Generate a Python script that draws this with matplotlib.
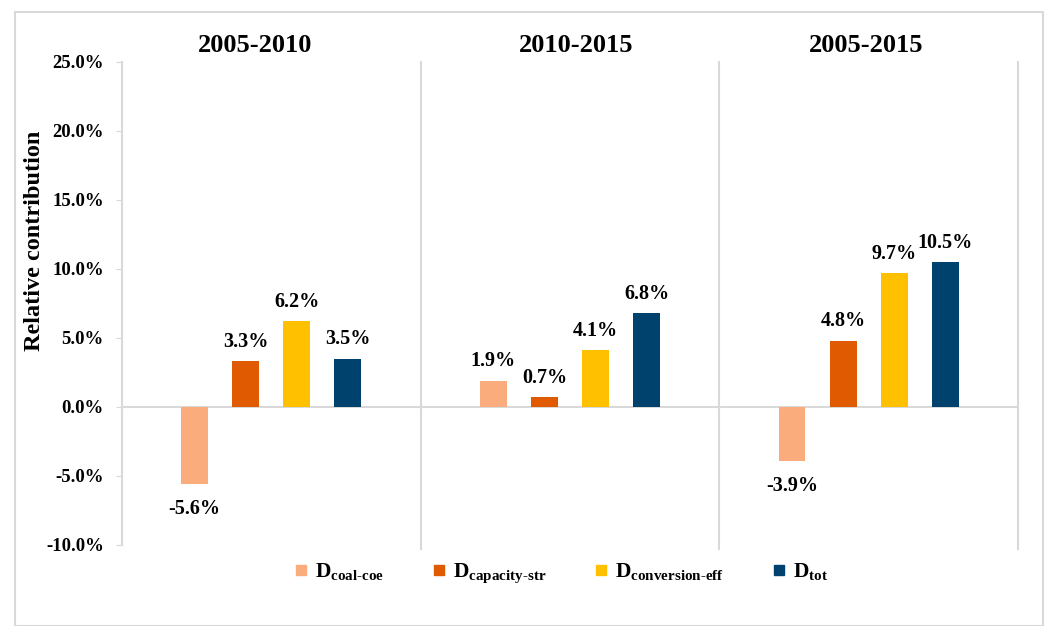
import numpy as np
import matplotlib.pyplot as plt
from matplotlib.lines import Line2D
from matplotlib.patches import Rectangle

plt.rcParams['font.family'] = ['Liberation Serif', 'DejaVu Serif']
plt.rcParams['font.weight'] = 'bold'
plt.rcParams['mathtext.fontset'] = 'custom'
plt.rcParams['mathtext.rm'] = 'Liberation Serif:bold'
plt.rcParams['mathtext.bf'] = 'Liberation Serif:bold'

periods = ['2005-2010', '2010-2015', '2005-2015']
factors = ['coal‐coe', 'capacity‐str', 'conversion‐eff', 'tot']
coal_coe = [-5.6, 1.9, -3.9]
capacity_str = [3.3, 0.7, 4.8]
conversion_eff = [6.2, 4.1, 9.7]
d_tot = [3.5, 6.8, 10.5]
colors = ['#FBAC7D', '#E05A02', '#FFC000', '#00426E']
grey = '#D9D9D9'

series = [coal_coe, capacity_str, conversion_eff, d_tot]

fig = plt.figure(figsize=(10.46, 6.26), dpi=100)
ax = fig.add_axes([0.1166, 0.1294, 0.8566, 0.7716])

x = np.arange(len(periods))
step = 0.171
width = 0.09
for i, (vals, c) in enumerate(zip(series, colors)):
    pos = x + (i - 1.5) * step
    ax.bar(pos, vals, width, color=c, zorder=3)
    for p, v in zip(pos, vals):
        if v >= 0:
            ax.annotate(f'{v:.1f}%', (p, v), xytext=(0, 14), textcoords='offset points',
                        ha='center', va='center', fontsize=14.5, fontweight='bold')
        else:
            ax.annotate(f'{v:.1f}%', (p, v), xytext=(0, -18), textcoords='offset points',
                        ha='center', va='center', fontsize=14.5, fontweight='bold')

ax.set_xlim(-0.5, 2.5)
ax.set_ylim(-10, 25)
ax.axhline(0, color=grey, lw=1.5, zorder=2)
for sx in [0.5, 1.5, 2.5]:
    ax.plot([sx, sx], [-10.3, 25], color=grey, lw=1.5, clip_on=False, zorder=1)

ax.set_yticks(np.arange(-10, 26, 5))
ax.set_yticklabels([f'{t:.1f}%' for t in np.arange(-10, 26, 5)], fontsize=13.5, fontweight='bold')
ax.tick_params(axis='y', length=4, color=grey, pad=9)
ax.set_xticks([])
for s in ['top', 'right', 'bottom']:
    ax.spines[s].set_visible(False)
ax.spines['left'].set_color(grey)
ax.spines['left'].set_linewidth(1.5)

ax.set_ylabel('Relative contribution', fontsize=17.5, fontweight='bold')
ax.yaxis.set_label_coords(-0.086, 0.629)

title_x = [-0.054, 1.019, 1.99]
for tx, t in zip(title_x, periods):
    ax.text(tx, 1.035, t, transform=ax.get_xaxis_transform(), ha='center', va='center',
            fontsize=19, fontweight='bold')

handles = [Line2D([], [], marker='s', linestyle='', markersize=7.5, color=c) for c in colors]
labels = [r'$\mathbf{D}_{\mathbf{%s}}$' % f for f in factors]
fig.legend(handles, labels, loc='center', bbox_to_anchor=(0.536, 0.083), ncol=4, frameon=False,
           fontsize=15.5, handlelength=0.7, handletextpad=0.3, columnspacing=2.2)

fig.patches.append(Rectangle((15 / 1046, 0.0), 1028 / 1046, 1 - 12 / 626, transform=fig.transFigure,
                             fill=False, edgecolor=grey, lw=1.5))

fig.savefig('out.png', dpi=100)
